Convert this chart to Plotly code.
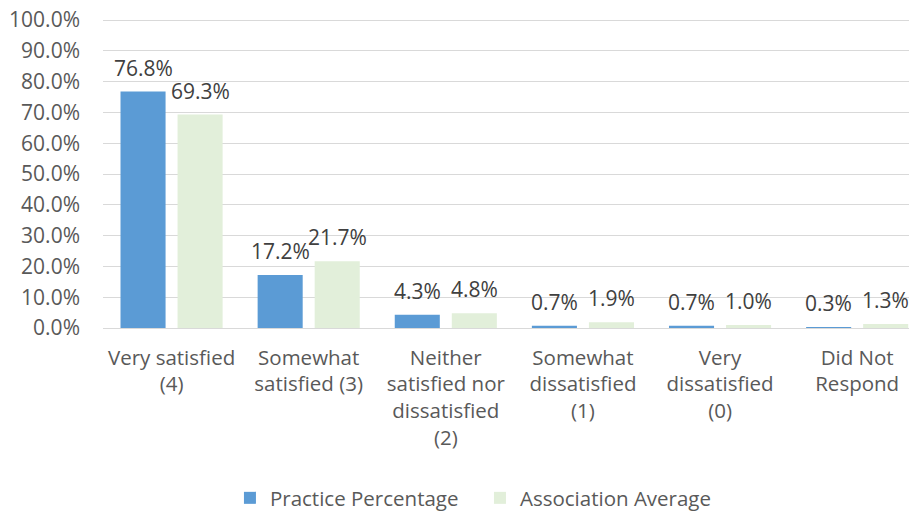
import plotly.graph_objects as go

categories = [
    "Very satisfied<br>(4)",
    "Somewhat<br>satisfied (3)",
    "Neither<br>satisfied nor<br>dissatisfied<br>(2)",
    "Somewhat<br>dissatisfied<br>(1)",
    "Very<br>dissatisfied<br>(0)",
    "Did Not<br>Respond",
]
practice = [76.8, 17.2, 4.3, 0.7, 0.7, 0.3]
association = [69.3, 21.7, 4.8, 1.9, 1.0, 1.3]
series_names = ["Practice Percentage", "Association Average"]
colors = ["#5B9BD5", "#E2EFDA"]

FONT = "Open Sans"
TXT = "#595959"

fig = go.Figure()
for name, vals, col in zip(series_names, [practice, association], colors):
    fig.add_trace(go.Bar(
        x=categories, y=vals, name=name,
        marker=dict(color=col, line=dict(width=0)),
    ))

# data labels
cat_px = 137.2
off = 0.208 * cat_px
for vals, sh in [(practice, -off), (association, off)]:
    for c, v in zip(categories, vals):
        fig.add_annotation(
            x=c, y=v, text=f"{v:.1f}%", showarrow=False,
            xshift=sh, yshift=8, yanchor="bottom",
            font=dict(family=FONT, size=21, color="#404040"),
        )

fig.update_layout(
    width=909, height=513,
    margin=dict(l=102.5, r=0, t=16.9, b=185, pad=0, autoexpand=False),
    paper_bgcolor="white", plot_bgcolor="white",
    barmode="group", bargap=0.168, bargroupgap=0.21,
    font=dict(family=FONT, size=20, color=TXT),
    showlegend=True,
    legend=dict(
        orientation="h", xref="container", yref="container",
        x=0.528, xanchor="center", y=0.0292, yanchor="middle",
        entrywidth=205, entrywidthmode="pixels",
        font=dict(family=FONT, size=20.5, color=TXT),
    ),
)
fig.update_xaxes(
    range=[-0.5, 5.378], showline=True, linecolor="#D9D9D9", linewidth=1.3,
    ticks="", showgrid=False, ticklabelstandoff=11, automargin=False,
    tickfont=dict(family=FONT, size=20.5, color=TXT),
)
fig.update_yaxes(
    range=[0, 101], dtick=10, tick0=0, tickformat=".1f", ticksuffix="%",
    showgrid=True, gridcolor="#D9D9D9", gridwidth=1.3,
    zeroline=False, showline=False, ticks="", ticklabelstandoff=22,
    automargin=False, ticklabeloverflow="allow",
    tickfont=dict(family=FONT, size=21, color=TXT),
)

fig.write_html(
    "out.html",
    config={"displayModeBar": False},
    post_script="document.body.style.margin='0';document.body.style.overflow='hidden';",
)
